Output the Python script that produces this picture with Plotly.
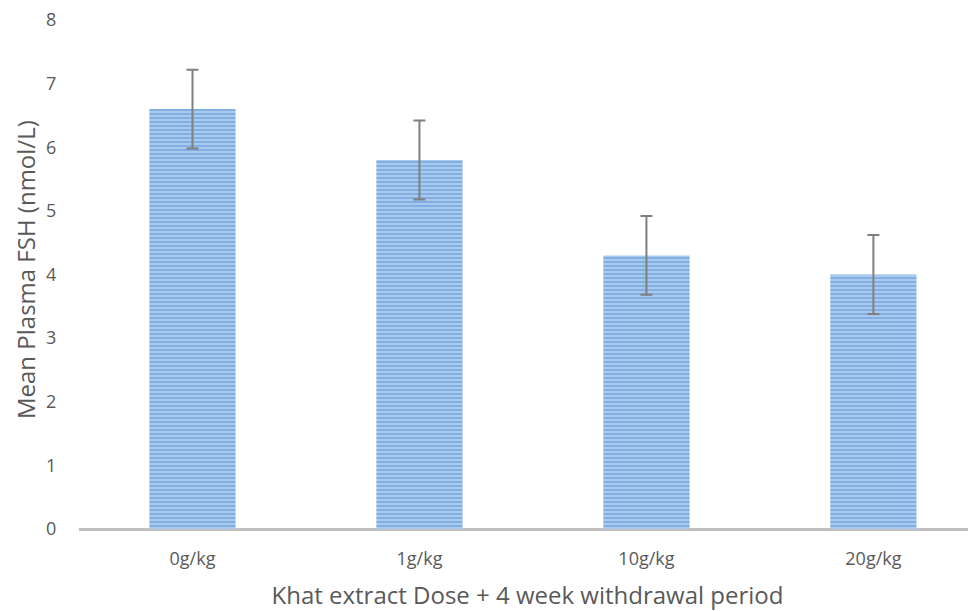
import plotly.graph_objects as go

categories = ["0g/kg", "1g/kg", "10g/kg", "20g/kg"]
means = [6.6, 5.8, 4.3, 4.0]
errors = [0.62, 0.62, 0.62, 0.62]
y_ticks = [0, 1, 2, 3, 4, 5, 6, 7, 8]
x_title = "Khat extract Dose + 4 week withdrawal period"
y_title = "Mean Plasma FSH (nmol/L)"

font_family = "Open Sans, Calibri, Carlito, sans-serif"
text_color = "#595959"

fig = go.Figure()
fig.add_trace(go.Bar(
    x=list(range(len(categories))),
    y=means,
    width=0.38,
    marker=dict(
        color="#8DB6E4",
        line=dict(width=0),
        pattern=dict(shape="-", fgcolor="#5B95D3", bgcolor="#A9C9EE", size=4, solidity=0.5),
    ),
    error_y=dict(type="data", array=errors, visible=True, color="#7F7F7F", thickness=2, width=6),
    hoverinfo="skip",
))

# page body has an 8px margin, so the figure is sized/offset to compensate
fig.update_layout(
    width=968, height=603,
    margin=dict(l=71, r=0, t=12, b=82),
    paper_bgcolor="white", plot_bgcolor="white",
    showlegend=False,
    font=dict(family=font_family, color=text_color),
    xaxis=dict(
        range=[-0.5, 3.452],
        tickmode="array", tickvals=list(range(len(categories))), ticktext=categories,
        tickfont=dict(size=18, color=text_color),
        ticks="outside", ticklen=13, tickcolor="rgba(0,0,0,0)",
        showline=False, showgrid=False, zeroline=False, automargin=False,
        title=dict(text=x_title, font=dict(size=24, color=text_color), standoff=23),
    ),
    yaxis=dict(
        range=[0, 8],
        tickmode="array", tickvals=y_ticks,
        tickfont=dict(size=18, color=text_color),
        ticks="outside", ticklen=18, tickcolor="rgba(0,0,0,0)",
        ticklabeloverflow="allow",
        showline=False, showgrid=False, zeroline=True, zerolinecolor="#BFBFBF", zerolinewidth=3,
        automargin=False,
    ),
    annotations=[dict(
        text=y_title, xref="paper", yref="paper", x=-0.0595, y=0.51,
        xanchor="center", yanchor="middle", textangle=-90, showarrow=False,
        font=dict(size=24, color=text_color),
    )],
)

fig.write_html("out.html")
